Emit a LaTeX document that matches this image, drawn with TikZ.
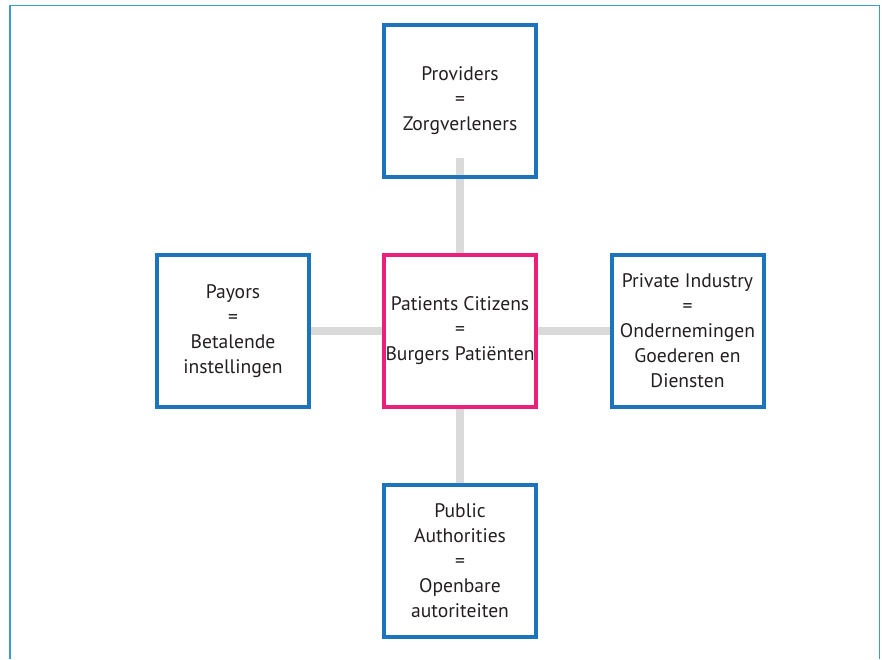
\documentclass[tikz,border=0pt]{standalone}
\usepackage{fontspec}
\setmainfont{PT Sans}
\usetikzlibrary{backgrounds}
\definecolor{boxblue}{HTML}{1C75BC}
\definecolor{boxpink}{HTML}{E9217A}
\definecolor{conngrey}{HTML}{DADADA}
\definecolor{framecol}{HTML}{3A9BCF}
\definecolor{txt}{HTML}{231F20}
\tikzset{
  box/.style={draw=boxblue, line width=4pt, minimum width=152pt, minimum height=152pt,
    inner sep=0pt, align=center, text=txt, font=\fontsize{19.6}{25}\selectfont},
  centerbox/.style={box, draw=boxpink},
  conn/.style={draw=conngrey, line width=8pt},
  frameline/.style={draw=framecol, line width=1.5pt}
}
\begin{document}
\begin{tikzpicture}[x=1pt, y=-1pt]
\useasboundingbox (0,0) rectangle (882,659);
\draw[frameline] (10,659) -- (10,5.5) -- (879.5,5.5) -- (879.5,659);
\node[box] (top) at (460,101) {Providers\\=\\Zorgverleners};
\node[box] (left) at (233,331) {Payors\\=\\Betalende\\instellingen};
\node[centerbox] (c) at (460,331) {Patients Citizens\\=\\Burgers Patiënten};
\node[box] (right) at (687.5,331) {Private Industry\\=\\Ondernemingen\\Goederen en\\Diensten};
\node[box] (bottom) at (460,561) {Public\\Authorities\\=\\Openbare\\autoriteiten};
\coordinate (topin) at (460,158);
\begin{scope}[on background layer]
\draw[conn] (topin) -- (c.north);
\draw[conn] (left.east) -- (c.west);
\draw[conn] (c.east) -- (right.west);
\draw[conn] (c.south) -- (bottom.north);
\end{scope}
\end{tikzpicture}
\end{document}
